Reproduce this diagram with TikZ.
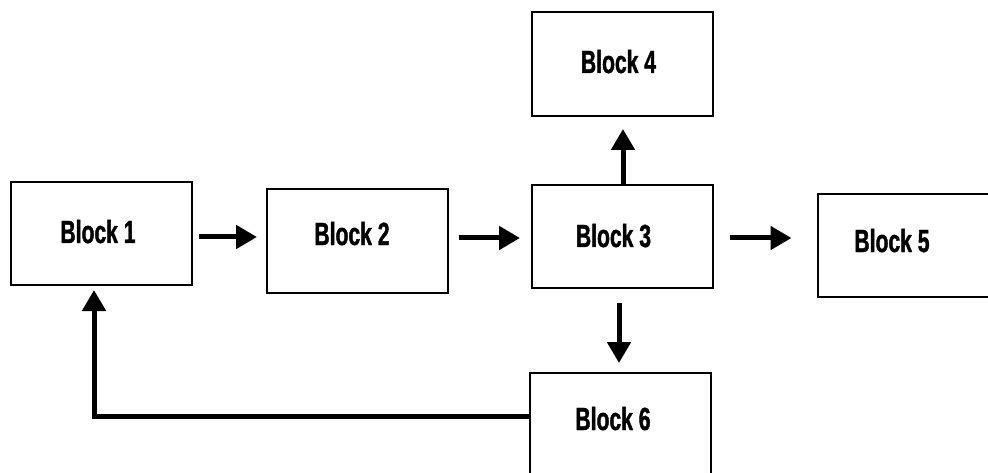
\documentclass[tikz,border=0pt]{standalone}
\usepackage{fontspec}
\setmainfont{Liberation Sans}[FakeStretch=0.66, BoldFeatures={FakeBold=1.2}]
\usetikzlibrary{arrows.meta}

\tikzset{
  blockbox/.style={draw, line width=2pt, rectangle, minimum width=181pt, minimum height=103pt, inner sep=0pt},
  blocklabel/.style={font=\fontsize{32}{32}\selectfont\bfseries, anchor=base, inner sep=0pt},
  flow/.style={line width=5pt, -{Triangle[length=21pt,width=23pt]}}
}

\begin{document}
\begin{tikzpicture}[x=1pt,y=-1pt]
\useasboundingbox (0,0) rectangle (988,473);
\clip (0,0) rectangle (988,473);

% boxes
\node[blockbox] (b1) at (101.5,233.5) {};
\node[blockbox] (b2) at (357.5,241) {};
\node[blockbox] (b3) at (622.5,236.5) {};
\node[blockbox, minimum height=104pt] (b4) at (622.5,64) {};
\node[blockbox] (b5) at (908,245.5) {};
\node[blockbox] (b6) at (620,424.5) {};

% captions
\node[blocklabel] (t1) at (98,243) {Block 1};
\node[blocklabel] (t2) at (352,245) {Block 2};
\node[blocklabel] (t3) at (613.5,247) {Block 3};
\node[blocklabel] (t4) at (618.5,73) {Block 4};
\node[blocklabel] (t5) at (892,252) {Block 5};
\node[blocklabel] (t6) at (613,430) {Block 6};

% connector start points
\path (b1.east) ++(0,3.5) coordinate (s12);
\path (b2.east) ++(0,-3) coordinate (s23);
\path (b3.east) ++(0,1.5) coordinate (s35);
\path (b3.north) ++(0.5,0) coordinate (s34);
\path (b3.south) ++(-3.5,0) coordinate (s36);
\path (b6.west) ++(0,-8.5) coordinate (s61);
\path (b1.south) ++(-7.5,0) coordinate (e61);

% connectors
\draw[flow, shorten <=6pt, shorten >=9pt] (s12) -- (s12 -| b2.west);
\draw[flow, shorten <=10pt, shorten >=11pt] (s23) -- (s23 -| b3.west);
\draw[flow, shorten <=16pt, shorten >=25pt] (s35) -- (s35 -| b5.west);
\draw[flow, shorten >=12pt] (s34) -- (s34 |- b4.south);
\draw[flow, shorten <=14pt, shorten >=9pt] (s36) -- (s36 |- b6.north);
\draw[flow, shorten >=4pt] (s61) -| (e61);
\end{tikzpicture}
\end{document}
